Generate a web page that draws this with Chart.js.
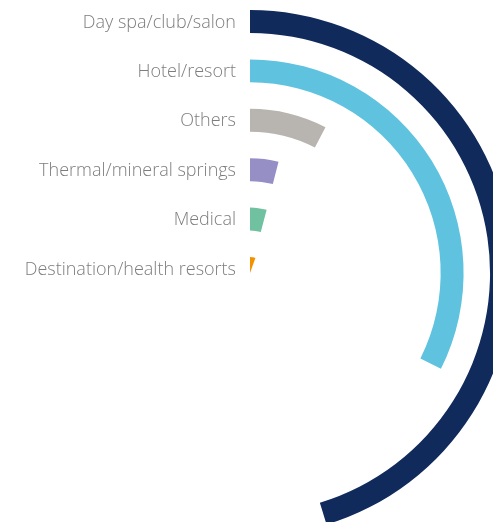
<!DOCTYPE html>
<html>
<head>
<meta charset="utf-8">
<script src="https://cdn.jsdelivr.net/npm/chart.js@4.4.0/dist/chart.umd.min.js"></script>
<style>
  html, body { margin: 0; padding: 0; background: #fff; overflow: hidden; width: 493px; height: 522px; }
  #myChart { position: absolute; left: -13px; top: 10px; }
</style>
</head>
<body>
<canvas id="myChart" width="526" height="526"></canvas>
<script>
// categories, outer ring first
var categories = ['Day spa/club/salon', 'Hotel/resort', 'Others', 'Thermal/mineral springs', 'Medical', 'Destination/health resorts'];
// share of a full turn, in percent
var shares = [45.3, 32.4, 7.6, 4.0, 4.1, 5.5];
var colors = ['#112a5c', '#5fc3e0', '#b8b4b0', '#968fc6', '#6fc1a0', '#f39200'];

// ring thickness and gap between rings (px, used as weights)
var ringWeight = 23;
var gapWeight = 26.5;
var lastWeight = 16;

var datasets = [];
categories.forEach(function(name, i){
    datasets.push({
        label: name,
        data: [shares[i], 100 - shares[i]],
        backgroundColor: [colors[i], 'rgba(0,0,0,0)'],
        borderWidth: 0,
        weight: i == categories.length - 1 ? lastWeight : ringWeight
    });
    if (i < categories.length - 1) {
        datasets.push({
            label: '',
            data: [100],
            backgroundColor: ['rgba(0,0,0,0)'],
            borderWidth: 0,
            weight: gapWeight
        });
    }
});

// draws the category names to the left of the start of each ring
var ringLabels = {
    id: 'ringLabels',
    afterDatasetsDraw: function(chart){
        var ctx = chart.ctx;
        ctx.save();
        ctx.font = '300 18px "Open Sans", "Noto Sans", sans-serif';
        ctx.fillStyle = '#7d7d7d';
        ctx.textAlign = 'right';
        ctx.textBaseline = 'middle';
        chart.data.datasets.forEach(function(ds, i){
            if (!ds.label) return;
            var arc = chart.getDatasetMeta(i).data[0];
            // same spacing as the other rings, even for the small centre one
            var y = arc.y - arc.outerRadius + ringWeight / 2 + 1;
            ctx.fillText(ds.label, arc.x - 14, y);
        });
        ctx.restore();
    }
};

var ctx = document.getElementById("myChart");
var myChart = new Chart(ctx, {
  type: 'doughnut',
  data: {
    labels: ['value', 'rest'],
    datasets: datasets
  },
  options: {
    responsive: false,
    animation: false,
    cutout: 0,
    layout: { padding: 0 },
    plugins: {
      legend: { display: false },
      tooltip: { enabled: false }
    }
  },
  plugins: [ringLabels]
});
</script>
</body>
</html>
